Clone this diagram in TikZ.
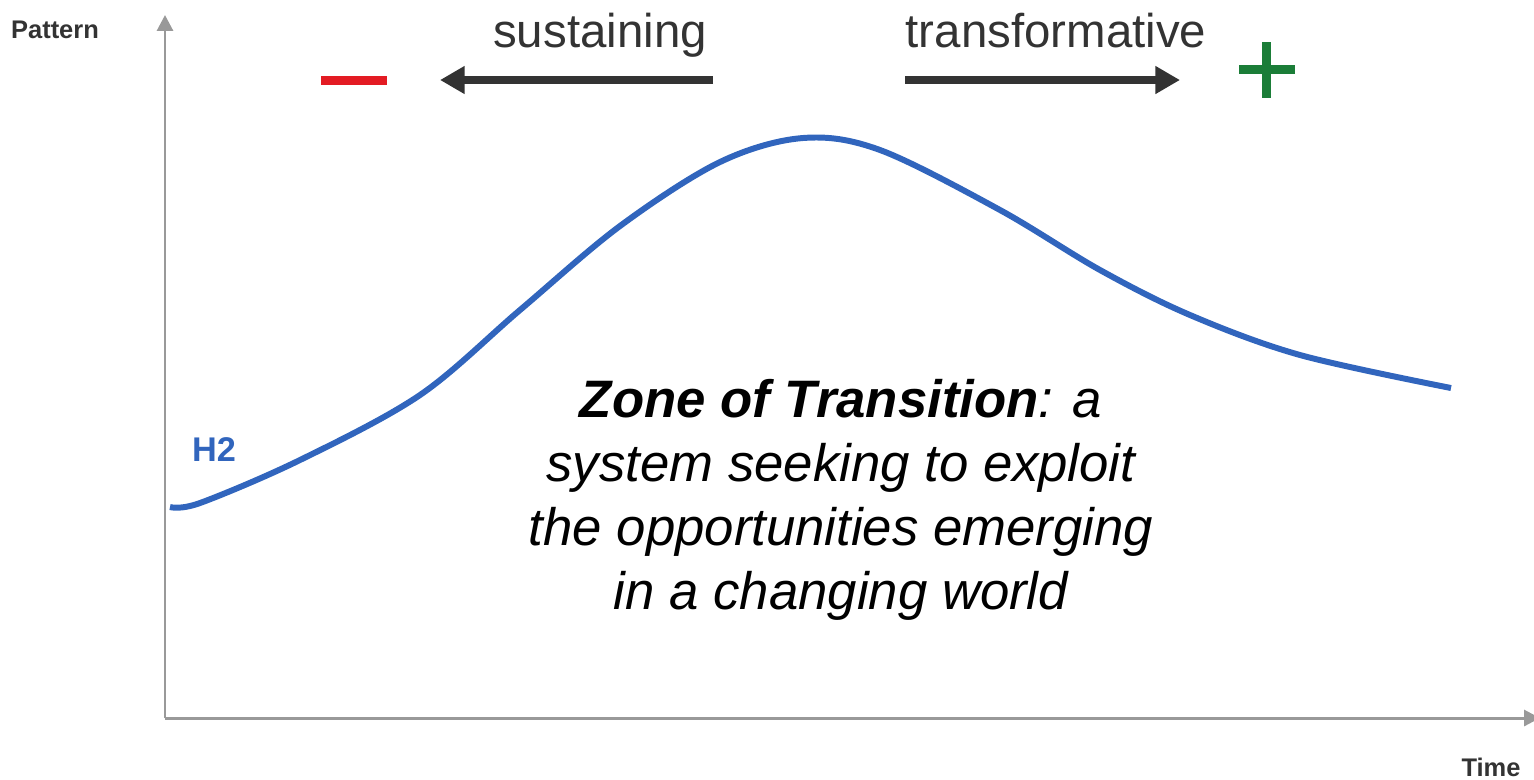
\documentclass[tikz,border=0pt]{standalone}
\usepackage{fontspec}
\setmainfont{Liberation Sans}
\usetikzlibrary{arrows.meta}
\definecolor{curveblue}{HTML}{3165BD}
\definecolor{darktext}{HTML}{333333}
\definecolor{axisgray}{HTML}{999999}
\definecolor{minusred}{HTML}{E31B23}
\definecolor{plusgreen}{HTML}{1B7D38}

\begin{document}
\begin{tikzpicture}[x=0.02cm,y=-0.02cm]
      \tikzset{axis line/.style={draw=axisgray, line width=1.7pt, -{Triangle[length=9pt,width=9pt]}},
               direction arrow/.style={draw=darktext, line width=4.5pt, -{Triangle[length=14pt,width=15pt]}},
               axis label/.style={font=\bfseries\fontsize{14.5}{17}\selectfont, text=darktext, anchor=base},
               direction label/.style={font=\fontsize{27}{32}\selectfont, text=darktext, anchor=base}}
      \useasboundingbox (0,0) rectangle (1534,779);
      % axes
      \coordinate (origin) at (165,718);
      \coordinate (ytop) at (165,15);
      \coordinate (xend) at (1540,718);
      \draw[axis line] (origin) -- (ytop);
      \draw[axis line] (origin) -- (xend);
      \node[axis label] (pattern) at (55,38) {Pattern};
      \node[axis label] (time) at (1491,776) {Time};
      % directions
      \node[direction label] (sustaining) at (600,47) {sustaining};
      \node[direction label] (transformative) at (1056,47) {transformative};
      \coordinate (sus-start) at (713,80);
      \coordinate (sus-end) at (440,80);
      \coordinate (trans-start) at (905,80);
      \coordinate (trans-end) at (1180,80);
      \draw[direction arrow] (sus-start) -- (sus-end);
      \draw[direction arrow] (trans-start) -- (trans-end);
      \fill[minusred] (321,76) rectangle (387,85);
      \fill[plusgreen] (1239,65) rectangle (1295,74);
      \fill[plusgreen] (1262,42) rectangle (1271,98);
      % curve
      \draw[curveblue, line width=3.4pt] plot[smooth, tension=0.55] coordinates
          {(170,507) (200,503) (300,460) (420,395) (520,310) (620,226) (720,162) (803,138)
           (880,150) (1000,210) (1100,270) (1190,315) (1300,355) (1451,388)};
      \node[font=\bfseries\fontsize{19.5}{23}\selectfont, text=curveblue, anchor=base] (h2) at (214,461) {H2};
      \node[align=center, inner sep=0pt, font=\itshape\fontsize{30}{36.3}\selectfont] (zone) at (841,500)
          {\textbf{Zone of Transition}: a\\ system seeking to exploit\\ the opportunities emerging\\ in a changing world};
\end{tikzpicture}
\end{document}
